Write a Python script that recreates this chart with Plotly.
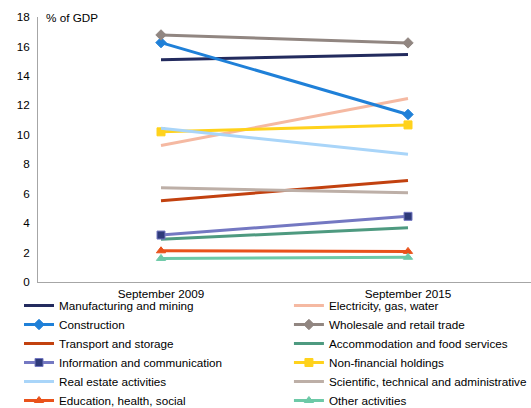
import plotly.graph_objects as go

categories = ["September 2009", "September 2015"]

series_names = [
    "Manufacturing and mining", "Electricity, gas, water",
    "Construction", "Wholesale and retail trade",
    "Transport and storage", "Accommodation and food services",
    "Information and communication", "Non-financial holdings",
    "Real estate activities", "Scientific, technical and administrative",
    "Education, health, social", "Other activities",
]

manufacturing = [15.1, 15.45]
electricity = [9.27, 12.46]
construction = [16.26, 11.38]
wholesale = [16.78, 16.24]
transport = [5.52, 6.9]
accommodation = [2.9, 3.69]
information = [3.19, 4.46]
non_financial = [10.2, 10.67]
real_estate = [10.45, 8.68]
scientific = [6.4, 6.06]
education = [2.12, 2.08]
other = [1.6, 1.68]

values = [manufacturing, electricity, construction, wholesale, transport,
          accommodation, information, non_financial, real_estate,
          scientific, education, other]

line_colors = ["#232b5e", "#f5b9a2", "#1f80d8", "#918681", "#c2410f", "#4e9a80",
               "#7478c2", "#ffd21c", "#a9d5f9", "#bdafa7", "#e9521b", "#6dc9a7"]
markers = [None, None, "diamond", "diamond", None, None,
           "square", "square", None, None, "triangle-up", "triangle-up"]
marker_colors = [None, None, "#1f80d8", "#918681", None, None,
                 "#2e3a7a", "#ffd21c", None, None, "#e9521b", "#6dc9a7"]

fig = go.Figure()
for i, (name, vals, lc, mk, mc) in enumerate(zip(series_names, values, line_colors, markers, marker_colors)):
    legend_id = "legend" if i % 2 == 0 else "legend2"
    if mk:
        fig.add_trace(go.Scatter(
            x=categories, y=vals, name=name, mode="lines+markers", legend=legend_id,
            line=dict(color=lc, width=3),
            marker=dict(symbol=mk, size=8, color=mc,
                        line=dict(color=lc, width=1)),
        ))
    else:
        fig.add_trace(go.Scatter(
            x=categories, y=vals, name=name, mode="lines", legend=legend_id,
            line=dict(color=lc, width=3),
        ))

font = "Liberation Sans, Arial, sans-serif"
fs = 11.7
legend_common = dict(
    orientation="v", xref="paper", yref="paper",
    y=-0.034, xanchor="left", yanchor="top",
    font=dict(family=font, size=fs, color="#000000"),
    tracegroupgap=0, itemwidth=30, bgcolor="rgba(0,0,0,0)",
)
fig.update_layout(
    width=531, height=408,
    margin=dict(l=38, r=0, t=17, b=126, autoexpand=False),
    paper_bgcolor="white", plot_bgcolor="white",
    font=dict(family=font, size=fs, color="#000000"),
    showlegend=True,
    legend=dict(x=-0.0385, **legend_common),
    legend2=dict(x=0.509, **legend_common),
    xaxis=dict(
        type="category", range=[-0.498, 1.498], automargin=False,
        showline=True, linecolor="#a6a6a6", linewidth=1,
        showgrid=False, zeroline=False, ticks="", ticklabelstandoff=1,
        tickfont=dict(family=font, size=fs, color="#000000"),
    ),
    yaxis=dict(
        range=[0, 18], dtick=2, automargin=False,
        showline=True, linecolor="#a6a6a6", linewidth=1,
        showgrid=False, zeroline=False, ticks="", ticklabelstandoff=5,
        tickfont=dict(family=font, size=fs, color="#000000"),
    ),
    annotations=[dict(
        text="% of GDP", xref="paper", yref="paper", x=0.012, y=1.0,
        xanchor="left", yanchor="middle", showarrow=False,
        font=dict(family=font, size=fs, color="#000000"),
    )],
)

fig.write_html("out.html", config={"displayModeBar": False},
               post_script="document.body.style.margin='0';")
